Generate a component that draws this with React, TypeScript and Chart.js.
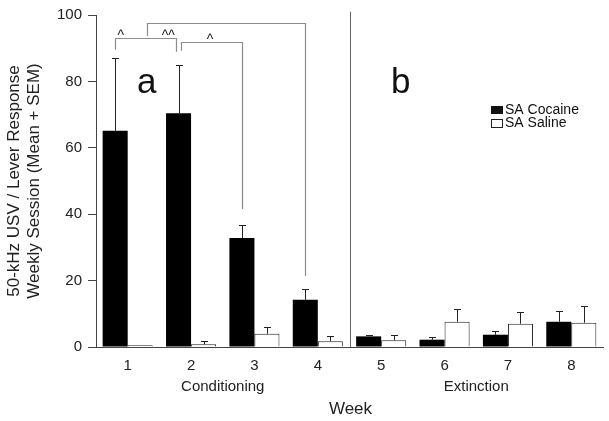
import React, { useEffect, useRef } from 'react';
import { Chart, registerables } from 'chart.js';

Chart.register(...registerables);

// ---- data ----
const weeks = ['1', '2', '3', '4', '5', '6', '7', '8'];
const seriesLabels = ['SA Cocaine', 'SA Saline'];
const cocaineMean = [65.1, 70.4, 32.8, 14.2, 3.2, 2.2, 3.7, 7.6];
const cocaineSem = [22.0, 14.6, 4.0, 3.2, 0.5, 0.7, 1.1, 3.1];
const salineMean = [0.5, 0.8, 4.0, 1.7, 2.0, 7.6, 7.0, 7.3];
const salineSem = [0, 0.9, 1.9, 1.5, 1.5, 3.7, 3.4, 5.1];
const yTicks = [0, 20, 40, 60, 80, 100];
const phaseLabels = ['Conditioning', 'Extinction'];
const phaseCenters = [1.5, 5.5]; // category index
const panelLetters = ['a', 'b'];
const panelLetterX = [0.3, 4.31];
const yTitleLines = ['50-kHz USV / Lever Response', 'Weekly Session (Mean + SEM)'];
const xTitle = 'Week';

// significance brackets (category index / y value)
const bracketStart = [-0.2, 0.3, 0.84];
const bracketEnd = [0.76, 2.8, 1.8];
const bracketTop = [93.1, 97.5, 91.9];
const bracketLeftEnd = [89.5, 93.7, 89.2];
const bracketRightEnd = [88.9, 21.4, 41.6];
const bracketMarks = ['^', '^^', '^'];
const bracketMarkX = [-0.11, 0.64, 1.3];
const bracketMarkY = [92.5, 92.5, 91.4];

const FONT = '"Liberation Sans", Arial, sans-serif';

const overlay = {
  id: 'overlay',
  afterDatasetsDraw(chart: any) {
    const { ctx, chartArea, scales } = chart;
    const xs = scales.x;
    const ys = scales.y;
    ctx.save();

    // error bars
    const sems = [cocaineSem, salineSem];
    const means = [cocaineMean, salineMean];
    ctx.strokeStyle = '#222';
    ctx.lineWidth = 1;
    for (let d = 0; d < 2; d++) {
      const meta = chart.getDatasetMeta(d);
      meta.data.forEach((bar: any, i: number) => {
        if (!sems[d][i]) return;
        const x = Math.round(bar.x) + 0.5;
        const y0 = ys.getPixelForValue(means[d][i]);
        const y1 = Math.round(ys.getPixelForValue(means[d][i] + sems[d][i])) + 0.5;
        ctx.beginPath();
        ctx.moveTo(x, y0);
        ctx.lineTo(x, y1);
        ctx.moveTo(x - 3.5, y1);
        ctx.lineTo(x + 3.5, y1);
        ctx.stroke();
      });
    }

    // divider between phases
    const dx = Math.round(xs.getPixelForValue(3.5)) + 0.5;
    ctx.strokeStyle = '#666';
    ctx.beginPath();
    ctx.moveTo(dx, ys.getPixelForValue(101));
    ctx.lineTo(dx, chartArea.bottom);
    ctx.stroke();

    // brackets
    ctx.strokeStyle = '#8c8c8c';
    ctx.lineWidth = 1.2;
    for (let b = 0; b < bracketStart.length; b++) {
      const x0 = Math.round(xs.getPixelForValue(bracketStart[b])) + 0.5;
      const x1 = Math.round(xs.getPixelForValue(bracketEnd[b])) + 0.5;
      const yt = Math.round(ys.getPixelForValue(bracketTop[b])) + 0.5;
      ctx.beginPath();
      ctx.moveTo(x0, ys.getPixelForValue(bracketLeftEnd[b]));
      ctx.lineTo(x0, yt);
      ctx.lineTo(x1, yt);
      ctx.lineTo(x1, ys.getPixelForValue(bracketRightEnd[b]));
      ctx.stroke();
    }
    ctx.fillStyle = '#222';
    ctx.font = `14px ${FONT}`;
    ctx.textAlign = 'center';
    ctx.textBaseline = 'alphabetic';
    for (let b = 0; b < bracketMarks.length; b++) {
      ctx.fillText(bracketMarks[b], xs.getPixelForValue(bracketMarkX[b]), ys.getPixelForValue(bracketMarkY[b]));
    }

    // panel letters
    ctx.font = `35px ${FONT}`;
    ctx.fillStyle = '#111';
    panelLetters.forEach((t, i) => {
      ctx.fillText(t, xs.getPixelForValue(panelLetterX[i]), 93);
    });

    // phase labels and x title
    ctx.font = `15px ${FONT}`;
    ctx.fillStyle = '#222';
    ctx.textBaseline = 'middle';
    phaseLabels.forEach((t, i) => {
      ctx.fillText(t, xs.getPixelForValue(phaseCenters[i]), 387);
    });
    ctx.font = `17px ${FONT}`;
    ctx.fillText(xTitle, (chartArea.left + chartArea.right) / 2 + 1, 409);

    // y title
    ctx.save();
    ctx.translate(0, (chartArea.top + chartArea.bottom) / 2);
    ctx.rotate(-Math.PI / 2);
    ctx.font = `17px ${FONT}`;
    ctx.fillText(yTitleLines[0], 0, 14);
    ctx.fillText(yTitleLines[1], 0, 34);
    ctx.restore();

    // legend
    ctx.font = `14px ${FONT}`;
    ctx.textAlign = 'left';
    ctx.textBaseline = 'middle';
    const lx = 491;
    const ly = [110, 123];
    ctx.fillStyle = '#111';
    ctx.fillRect(lx, ly[0] - 4, 12, 8);
    ctx.strokeStyle = '#222';
    ctx.lineWidth = 1;
    ctx.strokeRect(lx + 0.5, ly[1] - 3.5, 11, 8);
    ctx.fillStyle = '#111';
    ctx.fillText(seriesLabels[0], lx + 14, ly[0]);
    ctx.fillText(seriesLabels[1], lx + 14, ly[1]);

    ctx.restore();
  },
};

export default function App() {
  const ref = useRef<HTMLCanvasElement>(null);
  useEffect(() => {
    if (!ref.current) return;
    const chart = new Chart(ref.current, {
      type: 'bar',
      data: {
        labels: weeks,
        datasets: [
          {
            label: seriesLabels[0],
            data: cocaineMean,
            backgroundColor: '#000',
            borderWidth: 0,
          },
          {
            label: seriesLabels[1],
            data: salineMean,
            backgroundColor: '#fff',
            borderColor: '#222',
            borderWidth: 1,
          },
        ],
      },
      options: {
        responsive: false,
        animation: false,
        events: [],
        layout: { padding: { top: 11, right: 6, left: 0, bottom: 0 } },
        datasets: { bar: { categoryPercentage: 0.79, barPercentage: 1 } },
        plugins: { legend: { display: false }, tooltip: { enabled: false } },
        scales: {
          x: {
            grid: { display: false, drawTicks: false },
            border: { display: true, color: '#444', width: 1 },
            ticks: { color: '#222', font: { family: FONT, size: 15 }, padding: 10, maxRotation: 0 },
            afterFit: (s: any) => { s.height = 74; },
          },
          y: {
            min: 0,
            max: 100,
            afterBuildTicks: (s: any) => { s.ticks = yTicks.map((v) => ({ value: v })); },
            grid: { drawOnChartArea: false, drawTicks: true, tickLength: 8, color: '#444' },
            border: { display: true, color: '#444', width: 1 },
            ticks: { color: '#222', font: { family: FONT, size: 15 }, padding: 6 },
            afterFit: (s: any) => { s.width = 96; },
          },
        },
      },
      plugins: [overlay],
    });
    return () => chart.destroy();
  }, []);
  return (
    <div style={{ position: 'absolute', left: 0, top: 0, width: 609, height: 421, background: '#fff' }}>
      <canvas ref={ref} width={609} height={421} />
    </div>
  );
}
